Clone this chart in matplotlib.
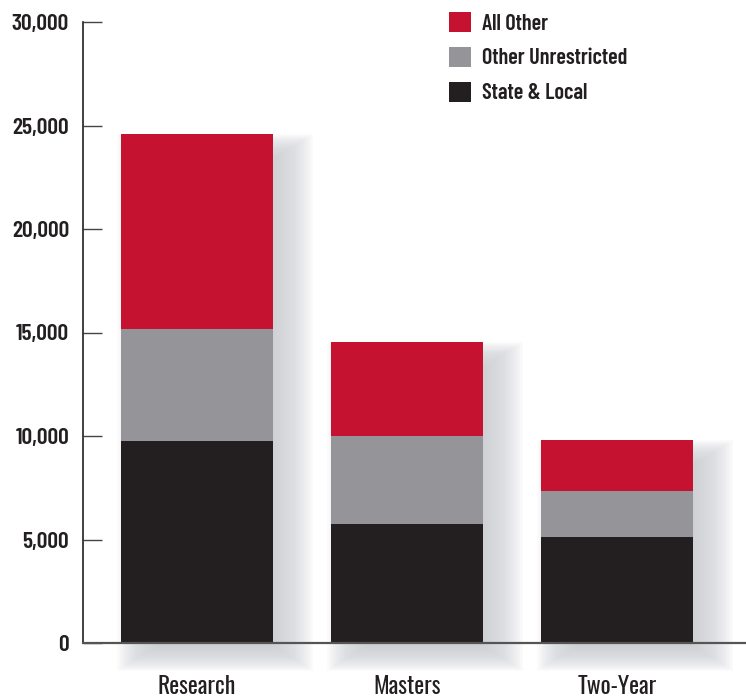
import matplotlib
matplotlib.use("Agg")
import matplotlib.pyplot as plt
from matplotlib.patches import Rectangle
import numpy as np

categories = ["Research", "Masters", "Two-Year"]
state_local = [9750, 5750, 5120]
other_unrestricted = [5420, 4250, 2220]
all_other = [9420, 4550, 2460]
series_names = ["State & Local", "Other Unrestricted", "All Other"]
yticks = [0, 5000, 10000, 15000, 20000, 25000, 30000]
ytick_labels = ["0", "5,000", "10,000", "15,000", "20,000", "25,000", "30,000"]

colors = ["#231f20", "#959599", "#c41230"]
txt = "#231f20"
FONT = ["Barlow Condensed", "Roboto Condensed", "DejaVu Sans"]
XFONT = ["Oswald", "Barlow Condensed", "DejaVu Sans"]
plt.rcParams["font.family"] = FONT

W, H = 746, 700
fig = plt.figure(figsize=(W / 100, H / 100), dpi=100)
ax = fig.add_axes([83 / W, 57 / H, 663 / W, 621 / H])

x = np.arange(len(categories))
width = 0.724
ax.set_xlim(-0.543, 2.614)
ax.set_ylim(0, 30000)

# pixel -> data conversions
px_x = 1 / 210.0
px_y = 30000 / 621.0

# soft drop shadows
totals = np.array(state_local) + np.array(other_unrestricted) + np.array(all_other)
dx, dy, rx, ry = 18 * px_x, 14 * px_y, 22, 14
n = 30
a = 1 - (1 - 0.85) ** (1 / n)
for xi, tot in zip(x, totals):
    x0 = xi - width / 2 + dx
    y0 = -dy
    for i in range(n):
        t = -1 + 2 * i / (n - 1)
        ix, iy = t * rx * px_x, t * ry * px_y
        ax.add_patch(Rectangle((x0 + ix, y0 + iy), width - 2 * ix, tot - 2 * iy,
                               facecolor=(0.80, 0.81, 0.83), alpha=a, edgecolor="none",
                               clip_on=False, zorder=0.5))

bottom = np.zeros(len(categories))
handles = []
for vals, name, c in zip([state_local, other_unrestricted, all_other], series_names, colors):
    b = ax.bar(x, vals, width, bottom=bottom, color=c, label=name, zorder=2, linewidth=0)
    handles.append(b)
    bottom += np.array(vals)

for s in ["top", "right"]:
    ax.spines[s].set_visible(False)
ax.spines["left"].set_color(txt)
ax.spines["left"].set_linewidth(1.2)
ax.spines["bottom"].set_color("#555555")
ax.spines["bottom"].set_linewidth(1.6)
ax.spines["left"].set_zorder(3)
ax.spines["bottom"].set_zorder(3)

ax.set_yticks(yticks)
ax.set_yticklabels(ytick_labels, fontsize=17, fontweight=600, color=txt)
ax.tick_params(axis="y", direction="in", length=14, width=1.0, color="#444444", pad=10)
ax.set_xticks(x)
ax.set_xticklabels([])
ax.tick_params(axis="x", length=0)
for xi, lab in zip(x, categories):
    ax.annotate(lab, xy=(xi, 0), xycoords="data", xytext=(0, -(694 - 643) * 0.72),
                textcoords="offset points", ha="center", va="baseline",
                fontsize=17, fontweight=400, family=XFONT, color=txt,
                annotation_clip=False)

leg = ax.legend(handles[::-1], series_names[::-1], loc="upper left",
                bbox_to_anchor=(449 / W, 1 - 12 / H), bbox_transform=fig.transFigure,
                frameon=False, prop={"family": FONT, "weight": 600, "size": 16},
                handlelength=1.0, handleheight=1.0, handletextpad=0.5,
                labelspacing=0.6, borderaxespad=0, borderpad=0)
for t in leg.get_texts():
    t.set_color(txt)

fig.savefig("out.png", dpi=100)
